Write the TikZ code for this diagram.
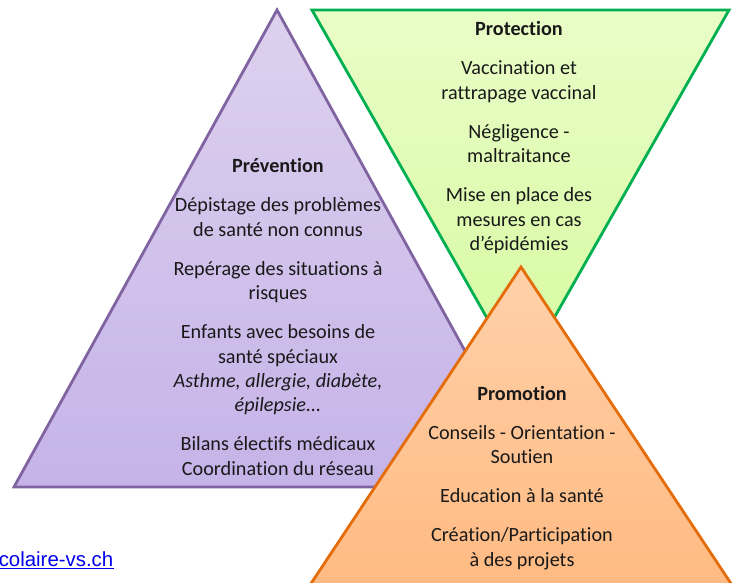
\documentclass[tikz,border=0pt]{standalone}
\usepackage{fontspec}
\setmainfont[Ligatures=CommonOff]{Carlito}
\newfontfamily\linkfont{Liberation Sans}
\definecolor{linkblue}{HTML}{0000EE}
\tikzset{
  tri/.style={line width=2.8pt,line join=miter},
  lbl/.style={anchor=base,inner sep=0pt,yshift=-1pt,font=\fontsize{20.2}{22}\selectfont,text=black!90},
  hd/.style={lbl,font=\fontsize{20.2}{22}\selectfont\bfseries},
  it/.style={lbl,font=\fontsize{20.2}{22}\selectfont\itshape},
}
\begin{document}
\begin{tikzpicture}[x=1pt,y=-1pt]
\useasboundingbox (0,0) rectangle (734,582);
\clip (0,0) rectangle (734,582);
% triangles
\draw[tri,draw={rgb,255:red,0;green,176;blue,80},top color={rgb,255:red,233;green,253;blue,199},bottom color={rgb,255:red,214;green,250;blue,160}]
  (312,10) -- (729,10) -- (520.5,377) -- cycle;
\draw[tri,draw={rgb,255:red,128;green,100;blue,162},top color={rgb,255:red,222;green,209;blue,238},bottom color={rgb,255:red,197;green,179;blue,232}]
  (277,10) -- (540,487) -- (14,487) -- cycle;
\draw[tri,draw={rgb,255:red,228;green,108;blue,10},top color={rgb,255:red,255;green,209;blue,170},bottom color={rgb,255:red,255;green,186;blue,130}]
  (521,267) -- (732,585) -- (310,585) -- cycle;
% Protection
\node[hd] (p0) at (519,34) {Protection};
\node[lbl] (p1) at (519,73) {Vaccination et};
\node[lbl] (p2) at (519,98) {rattrapage vaccinal};
\node[lbl] (p3) at (519,137) {Négligence -};
\node[lbl] (p4) at (519,161) {maltraitance};
\node[lbl] (p5) at (519,200) {Mise en place des};
\node[lbl] (p6) at (519,225) {mesures en cas};
\node[lbl] (p7) at (519,249) {d’épidémies};
% Prevention
\node[hd] (v0) at (278,171) {Prévention};
\node[lbl] (v1) at (278,210) {Dépistage des problèmes};
\node[lbl] (v2) at (278,235) {de santé non connus};
\node[lbl] (v3) at (278,274) {Repérage des situations à};
\node[lbl] (v4) at (278,298) {risques};
\node[lbl] (v5) at (278,337) {Enfants avec besoins de};
\node[lbl] (v6) at (278,362) {santé spéciaux};
\node[it] (v7) at (278,386) {Asthme, allergie, diabète,};
\node[it] (v8) at (278,410) {épilepsie...};
\node[lbl] (v9) at (278,449) {Bilans électifs médicaux};
\node[lbl] (v10) at (278,474) {Coordination du réseau};
% Promotion
\node[hd] (r0) at (522,399) {Promotion};
\node[lbl] (r1) at (522,438) {Conseils - Orientation -};
\node[lbl] (r2) at (522,462) {Soutien};
\node[lbl] (r3) at (522,501) {Education à la santé};
\node[lbl] (r4) at (522,540) {Création/Participation};
\node[lbl] (r5) at (522,565) {à des projets};
% link
\node[anchor=base east,inner sep=0pt,text=linkblue,font=\linkfont\fontsize{20.4}{22}\selectfont] (link) at (113.5,566.5) {colaire-vs.ch};
\draw[linkblue,line width=1.2pt] (link.base west |- 0,568.5) -- (link.base east |- 0,568.5);
\end{tikzpicture}
\end{document}
